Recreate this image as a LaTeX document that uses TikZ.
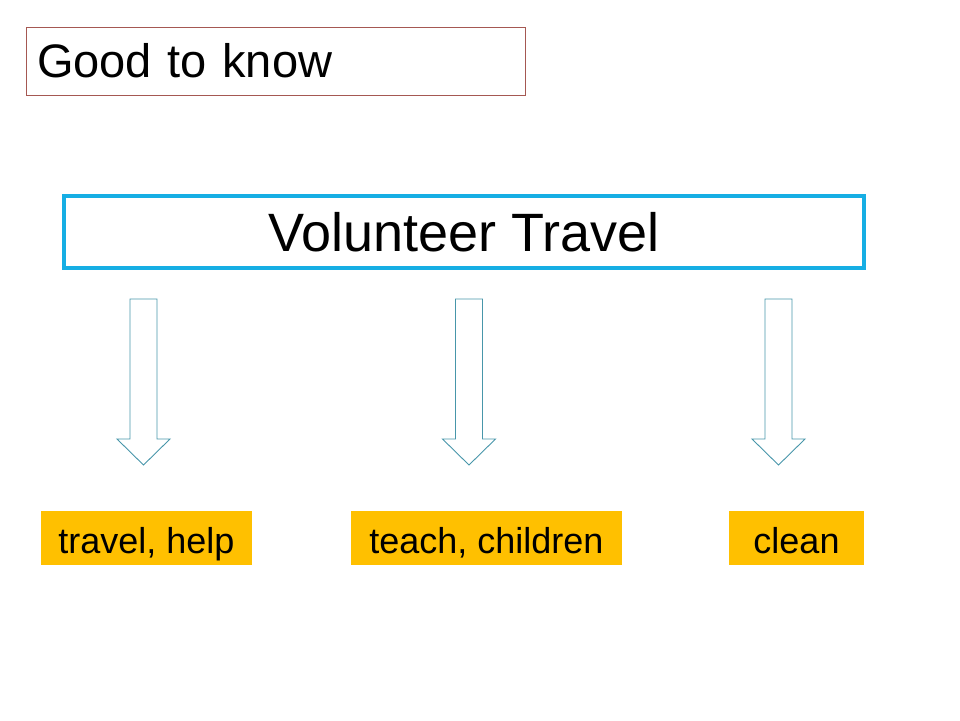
\documentclass[tikz,border=0pt]{standalone}
\usepackage{fontspec}
\setmainfont{Liberation Sans}
\definecolor{titleframe}{RGB}{165,88,82}
\definecolor{mainframe}{RGB}{22,174,228}
\definecolor{arrowline}{RGB}{72,150,170}
\definecolor{keyword}{RGB}{255,192,0}

\begin{document}
\begin{tikzpicture}[x=1pt,y=-1pt,
 titlebox/.style={draw=titleframe,line width=.8pt,minimum width=499pt,
  minimum height=68pt,inner xsep=11pt,text width=477pt,align=left,
  font=\fontsize{47}{50}\selectfont},
 mainbox/.style={draw=mainframe,line width=3.6pt,minimum width=800pt,
  minimum height=72pt,font=\fontsize{54}{56}\selectfont},
 keybox/.style={fill=keyword,minimum height=54pt,inner xsep=0pt,
  inner ysep=0pt,text height=38pt,text depth=8pt,
  font=\fontsize{36}{40}\selectfont},
 blockarrow/.style={draw=arrowline,line width=.9pt,line join=miter}]
 \useasboundingbox (0,0) rectangle (960,720);
 \node[titlebox] (title) at (275.5,61) {Good to know};
 \node[mainbox] (travel) at (464,232) {Volunteer Travel};
 \node[keybox,minimum width=211pt] (help) at (146.5,538) {travel, help};
 \node[keybox,minimum width=271pt] (teach) at (486.5,538) {teach, children};
 \node[keybox,minimum width=135pt] (clean) at (796.5,538) {clean};
 % hollow arrows from the main box to the keywords
 \foreach \cx in {143.5,469,778.5}{
  \draw[blockarrow] (\cx-13.5,299)--(\cx+13.5,299)--(\cx+13.5,439)
   --(\cx+26.5,439)--(\cx,465)--(\cx-26.5,439)--(\cx-13.5,439)--cycle;}
\end{tikzpicture}
\end{document}
